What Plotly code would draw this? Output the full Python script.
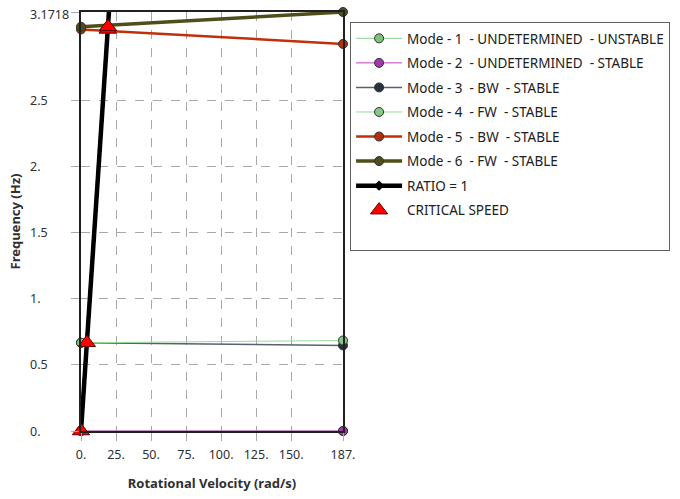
import math
import plotly.graph_objects as go

# ---- data ----
speed = [0, 187]
mode1 = [0.0, 0.0]
mode2 = [0.0, 0.0]
mode3 = [0.668, 0.648]
mode4 = [0.668, 0.685]
mode5 = [3.04, 2.93]
mode6 = [3.06, 3.1718]
ratio_x = [0, 187]
ratio_y = [0, 187 / (2 * math.pi)]
crit_x = [0.0, 4.2, 19.1, 19.23]
crit_y = [0.0, 0.668, 3.04, 3.06]

x_ticks = [0, 25, 50, 75, 100, 125, 150, 187]
x_ticktext = ["0.", "25.", "50.", "75.", "100.", "125.", "150.", "187."]
y_ticks = [0, 0.5, 1, 1.5, 2, 2.5, 3.1718]
y_ticktext = ["0.", "0.5", "1.", "1.5", "2.", "2.5", "3.1718"]

names = [
    "Mode - 1\u00a0\u00a0- UNDETERMINED\u00a0\u00a0- UNSTABLE",
    "Mode - 2\u00a0\u00a0- UNDETERMINED\u00a0\u00a0- STABLE",
    "Mode - 3\u00a0\u00a0- BW\u00a0\u00a0- STABLE",
    "Mode - 4\u00a0\u00a0- FW\u00a0\u00a0- STABLE",
    "Mode - 5\u00a0\u00a0- BW\u00a0\u00a0- STABLE",
    "Mode - 6\u00a0\u00a0- FW\u00a0\u00a0- STABLE",
    "RATIO = 1",
    "CRITICAL SPEED",
]

FONT = "Segoe UI, Noto Sans, sans-serif"

fig = go.Figure()

styles = [
    (mode1, "#8fd08f", 1, "#7cc47c"),
    (mode2, "#c040c0", 1, "#a03aa8"),
    (mode3, "#5a6070", 1.5, "#2a3040"),
    (mode4, "#98dc98", 1, "#86c886"),
    (mode5, "#c0300c", 2.5, "#b0300c"),
    (mode6, "#4e4e1a", 3.5, "#4e4e1a"),
]
for i, (ys, lc, lw, mc) in enumerate(styles):
    fig.add_trace(go.Scatter(
        x=speed, y=ys, name=names[i], mode="lines+markers",
        line=dict(color=lc, width=lw),
        marker=dict(symbol="circle", size=9, color=mc, line=dict(color="#303030", width=1)),
        cliponaxis=False, legendgroup=f"g{i}",
    ))

fig.add_trace(go.Scatter(
    x=ratio_x, y=ratio_y, name=names[6], mode="lines+markers",
    line=dict(color="black", width=4.5),
    marker=dict(symbol="diamond", size=8, color="black"),
    cliponaxis=True, legendgroup="g6",
))

fig.add_trace(go.Scatter(
    x=crit_x, y=crit_y, name=names[7], mode="markers",
    marker=dict(symbol="triangle-up", size=15, color="#ff0000", line=dict(color="#600000", width=1)),
    cliponaxis=False, legendgroup="g7",
))

# blank legend row to pad the legend box at the bottom
fig.add_trace(go.Scatter(
    x=[None], y=[None], name="\u00a0", mode="lines",
    line=dict(color="rgba(0,0,0,0)", width=0), legendgroup="g8", hoverinfo="skip",
))

# left-aligned y tick labels
for v, t in zip(y_ticks, y_ticktext):
    fig.add_annotation(x=-0.202, xref="paper", y=v, yref="y", text=t, showarrow=False,
                       xanchor="left", yanchor="middle", yshift=(-2 if v == y_ticks[-1] else 0),
                       font=dict(family=FONT, size=12.5, color="#303030"))

fig.update_layout(
    width=680, height=499,
    margin=dict(l=81, r=337, t=10, b=67),
    paper_bgcolor="white", plot_bgcolor="white",
    font=dict(family=FONT, size=12.5, color="#303030"),
    legend=dict(
        x=1.027, xanchor="left", y=0.976, yanchor="top",
        bordercolor="#606060", borderwidth=1, bgcolor="white",
        font=dict(family=FONT, size=13.5, color="#202020"),
        itemwidth=46, tracegroupgap=4, traceorder="grouped",
    ),
    showlegend=True,
)
fig.update_xaxes(
    range=[0, 187], tickvals=x_ticks, ticktext=x_ticktext,
    showgrid=True, gridcolor="#a8a8a8", griddash="dash", gridwidth=1,
    ticks="outside", ticklen=8, tickcolor="#a8a8a8",
    showline=True, linecolor="#202020", linewidth=1.5, mirror=True,
    zeroline=False, ticklabelstandoff=3, layer="above traces",
    tickfont=dict(family=FONT, size=12.5, color="#303030"),
    title=dict(text="<b>Rotational Velocity (rad/s)</b>", font=dict(family=FONT, size=13, color="#303030"), standoff=17),
)
fig.update_yaxes(
    range=[0, 3.1718], tickvals=y_ticks, showticklabels=False,
    showgrid=True, gridcolor="#a8a8a8", griddash="dash", gridwidth=1,
    ticks="outside", ticklen=8, tickcolor="#a8a8a8",
    showline=True, linecolor="#202020", linewidth=1.5, mirror=True,
    zeroline=False, layer="above traces",
    title=dict(text="<b>Frequency (Hz)</b>", font=dict(family=FONT, size=13, color="#303030"), standoff=48),
)

fig.write_html("out.html", config={"displayModeBar": False},
               post_script="document.body.style.margin='0';")
